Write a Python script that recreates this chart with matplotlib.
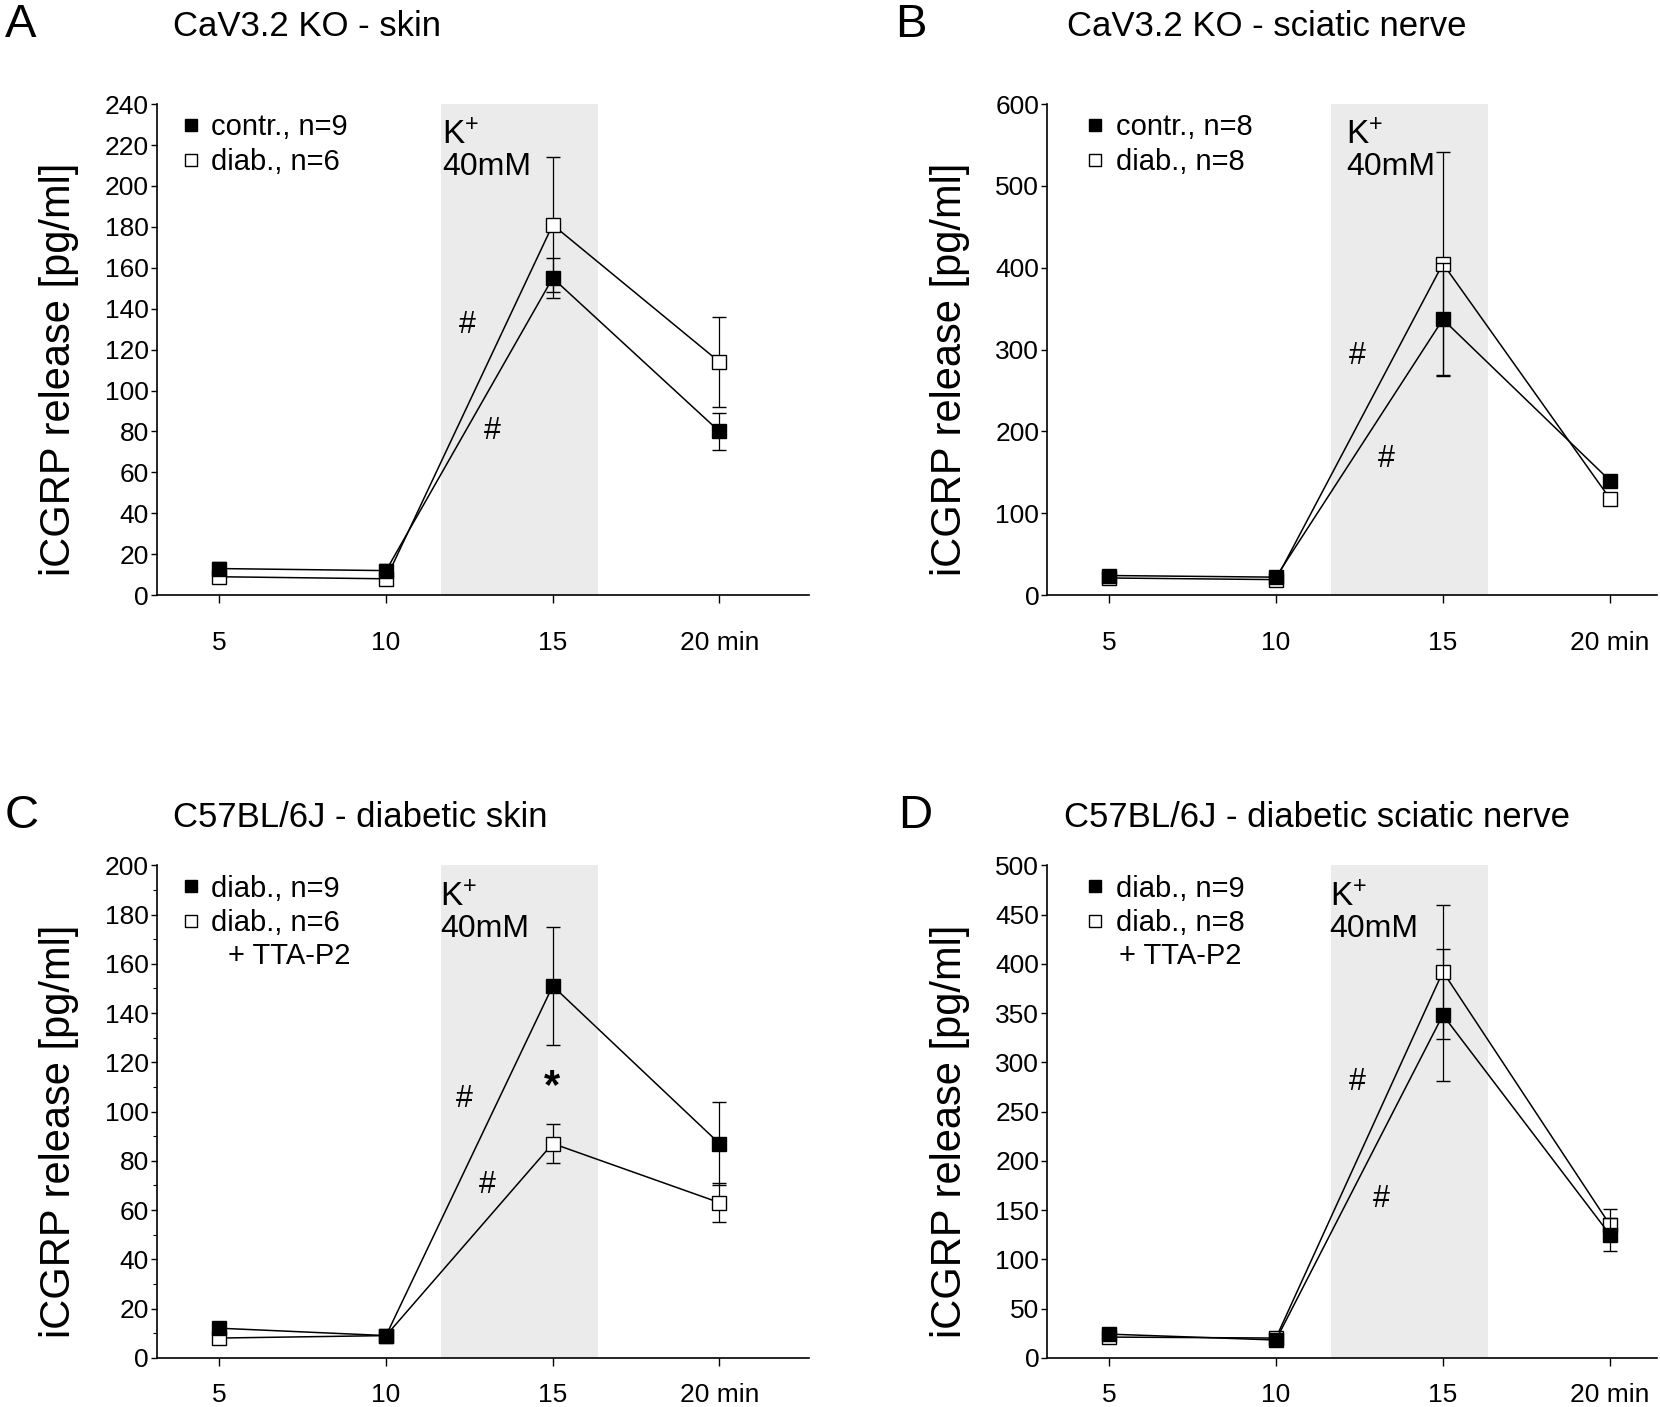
import numpy as np
import matplotlib.pyplot as plt
from matplotlib.lines import Line2D

plt.rcParams['font.family'] = ['Liberation Sans', 'DejaVu Sans']
plt.rcParams['mathtext.default'] = 'regular'

t = [5, 10, 15, 20]
tick_labels = ['5', '10', '15', '20 min']

# A: CaV3.2 KO - skin
a_contr = [13, 12, 155, 80]
a_contr_err = [3, 3, 10, 9]
a_diab = [9, 8, 181, 114]
a_diab_err = [3, 3, 33, 22]

# B: CaV3.2 KO - sciatic nerve
b_contr = [24, 22, 337, 140]
b_contr_err = [5, 4, 69, 6]
b_diab = [21, 19, 405, 118]
b_diab_err = [5, 4, 136, 6]

# C: C57BL/6J - diabetic skin
c_diab = [12, 9, 151, 87]
c_diab_err = [2, 1, 24, 17]
c_tta = [8, 9, 87, 63]
c_tta_err = [2, 1, 8, 8]

# D: C57BL/6J - diabetic sciatic nerve
d_diab = [24, 18, 348, 125]
d_diab_err = [4, 3, 67, 17]
d_tta = [21, 20, 392, 135]
d_tta_err = [4, 5, 68, 16]

panels = [
    dict(letter='A', title='CaV3.2 KO - skin', filled=a_contr, ferr=a_contr_err,
         opened=a_diab, oerr=a_diab_err, labels=['contr., n=9', 'diab., n=6'], extra=None,
         ymax=240, ystep=20, hashes=[(12.45, 132), (13.2, 80)], star=None),
    dict(letter='B', title='CaV3.2 KO - sciatic nerve', filled=b_contr, ferr=b_contr_err,
         opened=b_diab, oerr=b_diab_err, labels=['contr., n=8', 'diab., n=8'], extra=None,
         ymax=600, ystep=100, hashes=[(12.45, 292), (13.3, 166)], star=None),
    dict(letter='C', title='C57BL/6J - diabetic skin', filled=c_diab, ferr=c_diab_err,
         opened=c_tta, oerr=c_tta_err, labels=['diab., n=9', 'diab., n=6'], extra='+ TTA-P2',
         ymax=200, ystep=20, hashes=[(12.35, 105), (13.05, 70)], star=(14.97, 110)),
    dict(letter='D', title='C57BL/6J - diabetic sciatic nerve', filled=d_diab, ferr=d_diab_err,
         opened=d_tta, oerr=d_tta_err, labels=['diab., n=9', 'diab., n=8'], extra='+ TTA-P2',
         ymax=500, ystep=50, hashes=[(12.45, 280), (13.15, 161)], star=None),
]

rects = [
    [0.0946, 0.577, 0.393, 0.349],
    [0.631, 0.577, 0.367, 0.349],
    [0.0946, 0.035, 0.393, 0.350],
    [0.631, 0.035, 0.367, 0.350],
]
xlims = [(3.13, 22.7), (3.16, 21.4), (3.13, 22.7), (3.16, 21.4)]
legend_x = [0.02, 0.045, 0.02, 0.045]
extra_x = [0.109, 0.117, 0.109, 0.117]
k_x = [0.437, 0.49, 0.434, 0.463]
label_x = [-0.119, -0.127, -0.119, -0.127]
xpad = [20, 20, 12, 12]
letter_pos = [(0.003, 0.982), (0.539, 0.982), (0.003, 0.42), (0.541, 0.42)]
title_pos = [(0.104, 0.981), (0.643, 0.981), (0.104, 0.419), (0.641, 0.419)]

fig = plt.figure(figsize=(16.6, 14.07), dpi=100)

for i, p in enumerate(panels):
    ax = fig.add_axes(rects[i])
    ax.axvspan(11.65, 16.35, color='#ebebeb', lw=0, zorder=0)

    ax.errorbar(t, p['opened'], yerr=p['oerr'], color='black', lw=1.1, elinewidth=0.9,
                capsize=5, capthick=0.9, marker='s', ms=10.5, mfc='white', mec='black',
                mew=1.0, zorder=3)
    ax.errorbar(t, p['filled'], yerr=p['ferr'], color='black', lw=1.1, elinewidth=0.9,
                capsize=5, capthick=0.9, marker='s', ms=10.5, mfc='black', mec='black',
                mew=1.0, zorder=4)

    ax.set_xlim(*xlims[i])
    ax.set_ylim(0, p['ymax'])
    ax.set_xticks(t)
    ax.set_xticklabels(tick_labels)
    ax.set_yticks(np.arange(0, p['ymax'] + 1, p['ystep']))
    if p['letter'] == 'C':
        ax.set_yticks(np.arange(10, p['ymax'], 20), minor=True)
        ax.tick_params(axis='y', which='minor', length=3, width=0.8)
    ax.tick_params(axis='both', labelsize=19, width=1.0, direction='out')
    ax.tick_params(axis='x', length=6, pad=xpad[i])
    ax.tick_params(axis='y', length=4, pad=2)
    for s in ['top', 'right']:
        ax.spines[s].set_visible(False)
    for s in ['left', 'bottom']:
        ax.spines[s].set_linewidth(1.2)

    ax.set_ylabel('iCGRP release [pg/ml]', fontsize=30)
    ax.yaxis.set_label_coords(label_x[i], 0.46)

    ax.text(k_x[i], 0.935, 'K$^{+}$', transform=ax.transAxes, fontsize=24, va='center', ha='left')
    ax.text(k_x[i], 0.871, '40mM', transform=ax.transAxes, fontsize=23, va='center', ha='left')

    for hx, hy in p['hashes']:
        ax.text(hx, hy, '#', fontsize=22, ha='center', va='center')
    if p['star'] is not None:
        ax.text(p['star'][0], p['star'][1], '*', fontsize=30, ha='center', va='center',
                fontweight='bold')

    handles = [
        Line2D([], [], ls='none', marker='s', ms=9, mfc='black', mec='black'),
        Line2D([], [], ls='none', marker='s', ms=9, mfc='white', mec='black'),
    ]
    ax.legend(handles, p['labels'], loc='upper left', bbox_to_anchor=(legend_x[i], 1.005),
              frameon=False, fontsize=21, handlelength=0.6, handletextpad=0.4,
              labelspacing=0.22, borderaxespad=0.0)
    if p['extra']:
        ax.text(extra_x[i], 0.815, p['extra'], transform=ax.transAxes, fontsize=21,
                va='center', ha='left')

    fig.text(letter_pos[i][0], letter_pos[i][1], p['letter'], fontsize=34, va='center', ha='left')
    fig.text(title_pos[i][0], title_pos[i][1], p['title'], fontsize=25, va='center', ha='left')

fig.savefig('out.png', dpi=100)
